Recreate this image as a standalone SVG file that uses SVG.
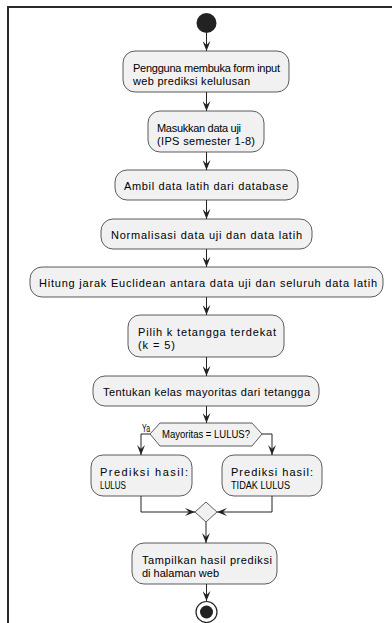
<svg xmlns="http://www.w3.org/2000/svg" width="392" height="623" viewBox="0 0 392 623">
<defs>
<style>
.box{fill:#F1F1F1;stroke:#333;stroke-width:0.8}
.t{font-family:"Liberation Sans",Arial,sans-serif;font-size:11px;fill:#000}
.c{text-anchor:middle}
.ln{fill:none;stroke:#222;stroke-width:1}
</style>
<marker id="ah" viewBox="0 0 10 8" refX="10" refY="4" markerWidth="10" markerHeight="8" markerUnits="userSpaceOnUse" orient="auto">
<path d="M0,0 L10,4 L0,8 L4,4 Z" fill="#222"/>
</marker>
</defs>
<rect x="0" y="0" width="392" height="623" fill="#fff"/>
<path d="M8,623 V7 H392" fill="none" stroke="#2b2b2b" stroke-width="2"/>

<g id="start"><circle cx="206.5" cy="23" r="10" fill="#222"/></g>

<g id="n1"><rect class="box" x="123" y="51" width="166" height="41" rx="12"/>
<text class="t" x="133" y="72" textLength="147" lengthAdjust="spacing">Pengguna membuka form input</text>
<text class="t" x="133" y="85" textLength="117" lengthAdjust="spacing">web prediksi kelulusan</text></g>

<g id="n2"><rect class="box" x="148" y="111" width="116" height="41" rx="12"/>
<text class="t" x="157" y="132" textLength="84" lengthAdjust="spacing">Masukkan data uji</text>
<text class="t" x="157" y="145" textLength="98" lengthAdjust="spacing">(IPS semester 1-8)</text></g>

<g id="n3"><rect class="box" x="115" y="170" width="183" height="30" rx="12"/>
<text class="t" x="124" y="190" textLength="164" lengthAdjust="spacing">Ambil data latih dari database</text></g>

<g id="n4"><rect class="box" x="101" y="219" width="211" height="30" rx="12"/>
<text class="t" x="111" y="239" textLength="191" lengthAdjust="spacing">Normalisasi data uji dan data latih</text></g>

<g id="n5"><rect class="box" x="30" y="267" width="353" height="30" rx="12"/>
<text class="t" x="39" y="287" textLength="338" lengthAdjust="spacing">Hitung jarak Euclidean antara data uji dan seluruh data latih</text></g>

<g id="n6"><rect class="box" x="128" y="315" width="156" height="42" rx="12"/>
<text class="t" x="138" y="336" textLength="138" lengthAdjust="spacing">Pilih k tetangga terdekat</text>
<text class="t" x="138" y="349" textLength="37" lengthAdjust="spacing">(k = 5)</text></g>

<g id="n7"><rect class="box" x="93" y="376" width="226" height="30" rx="12"/>
<text class="t" x="103" y="396" textLength="207" lengthAdjust="spacing">Tentukan kelas mayoritas dari tetangga</text></g>

<g id="d1"><polygon class="box" points="150,434 160,423 252,423 262,434 252,446 160,446"/>
<text class="t" x="162" y="438" font-size="10" textLength="88" lengthAdjust="spacingAndGlyphs">Mayoritas = LULUS?</text></g>

<g id="n8"><rect class="box" x="91" y="455" width="101" height="41" rx="12"/>
<text class="t" x="100" y="476" textLength="88" lengthAdjust="spacing">Prediksi hasil:</text>
<text class="t" x="100" y="489" textLength="26" lengthAdjust="spacingAndGlyphs">LULUS</text></g>

<g id="n9"><rect class="box" x="222" y="455" width="100" height="41" rx="12"/>
<text class="t" x="231" y="476" textLength="82" lengthAdjust="spacing">Prediksi hasil:</text>
<text class="t" x="231" y="489" textLength="59" lengthAdjust="spacingAndGlyphs">TIDAK LULUS</text></g>

<g id="merge"><polygon class="box" points="206,502 217,512 206,522 195,512"/></g>

<g id="n10"><rect class="box" x="132" y="543" width="145" height="41" rx="12"/>
<text class="t" x="142" y="564" textLength="130" lengthAdjust="spacing">Tampilkan hasil prediksi</text>
<text class="t" x="142" y="577" textLength="77" lengthAdjust="spacing">di halaman web</text></g>

<g id="end"><circle cx="206.5" cy="612" r="10.5" fill="none" stroke="#222" stroke-width="1.2"/><circle cx="206.5" cy="612" r="6.5" fill="#222"/></g>

<g id="connectors">
<path class="ln" d="M206.5,33 V51" marker-end="url(#ah)"/>
<path class="ln" d="M206.5,92 V111" marker-end="url(#ah)"/>
<path class="ln" d="M206.5,152 V170" marker-end="url(#ah)"/>
<path class="ln" d="M206.5,200 V219" marker-end="url(#ah)"/>
<path class="ln" d="M206.5,249 V267" marker-end="url(#ah)"/>
<path class="ln" d="M206.5,297 V315" marker-end="url(#ah)"/>
<path class="ln" d="M206.5,357 V376" marker-end="url(#ah)"/>
<path class="ln" d="M206.5,406 V423" marker-end="url(#ah)"/>
<path class="ln" d="M150,434 H141 V455" marker-end="url(#ah)"/>
<text class="t" x="142" y="432" font-size="9" textLength="8" lengthAdjust="spacingAndGlyphs">Ya</text>
<path class="ln" d="M262,434 H272 V455" marker-end="url(#ah)"/>
<path class="ln" d="M141,496 V512 H195" marker-end="url(#ah)"/>
<path class="ln" d="M272,496 V512 H217" marker-end="url(#ah)"/>
<path class="ln" d="M206,522 V543" marker-end="url(#ah)"/>
<path class="ln" d="M206.5,584 V601" marker-end="url(#ah)"/>
</g>
</svg>
